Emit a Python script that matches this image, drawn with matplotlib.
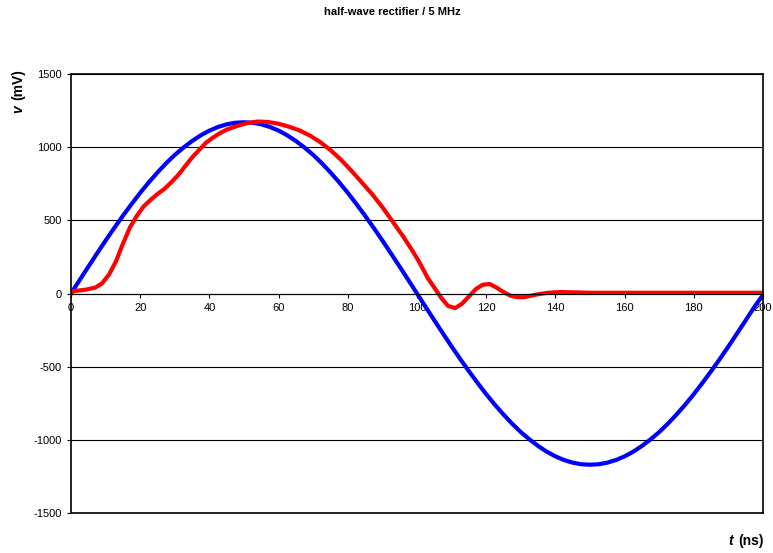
import matplotlib
matplotlib.use('Agg')
import matplotlib.pyplot as plt

plt.rcParams['font.family'] = ['Liberation Sans Narrow', 'Liberation Sans', 'DejaVu Sans']
plt.rcParams['axes.unicode_minus'] = False

# input sine (blue), read every 2.5 ns
t_in = [0, 2.5, 5, 7.5, 10, 12.5, 15, 17.5, 20, 22.5, 25, 27.5, 30, 32.5, 35, 37.5, 40, 42.5, 45, 47.5,
        50, 52.5, 55, 57.5, 60, 62.5, 65, 67.5, 70, 72.5, 75, 77.5, 80, 82.5, 85, 87.5, 90, 92.5, 95, 97.5,
        100, 102.5, 105, 107.5, 110, 112.5, 115, 117.5, 120, 122.5, 125, 127.5, 130, 132.5, 135, 137.5, 140, 142.5, 145, 147.5,
        150, 152.5, 155, 157.5, 160, 162.5, 165, 167.5, 170, 172.5, 175, 177.5, 180, 182.5, 185, 187.5, 190, 192.5, 195, 197.5, 200]
v_in = [0, 92, 183, 273, 362, 448, 531, 611, 688, 760, 827, 890, 947, 997, 1042, 1081, 1113, 1138, 1156, 1167,
        1170, 1167, 1156, 1138, 1113, 1081, 1042, 997, 947, 890, 827, 760, 688, 611, 531, 448, 362, 273, 183, 92,
        0, -92, -183, -273, -362, -448, -531, -611, -688, -760, -827, -890, -947, -997, -1042, -1081, -1113, -1138, -1156, -1167,
        -1170, -1167, -1156, -1138, -1113, -1081, -1042, -997, -947, -890, -827, -760, -688, -611, -531, -448, -362, -273, -183, -92, -10]

# rectifier output (red)
t_out = [0, 4, 7, 9, 11, 13, 15, 17, 19, 21, 23, 25, 27, 29, 31, 33, 35, 37, 39, 41, 43, 45, 48, 51, 54, 57,
         60, 63, 66, 69, 72, 75, 78, 81, 84, 87, 90, 93, 96, 99, 101, 103, 105, 107, 109, 111, 113, 115, 117,
         119, 121, 123, 125, 127, 129, 131, 133, 135, 138, 141, 145, 150, 200]
v_out = [15, 25, 40, 70, 130, 220, 340, 450, 530, 595, 640, 680, 715, 760, 810, 870, 930, 980, 1030, 1065, 1095,
         1120, 1145, 1165, 1175, 1172, 1160, 1140, 1115, 1080, 1035, 980, 915, 840, 760, 680, 590, 490, 390, 280,
         200, 110, 40, -30, -85, -100, -70, -20, 30, 60, 65, 40, 10, -15, -25, -25, -15, -5, 5, 10, 8, 5, 5]

fig = plt.figure(figsize=(7.73, 5.53), dpi=100)
ax = fig.add_axes([71 / 773, 40 / 553, 692 / 773, 439 / 553])

ax.plot(t_in, v_in, color='#0000ff', lw=3, solid_joinstyle='round')
ax.plot(t_out, v_out, color='#ff0000', lw=3, solid_joinstyle='round')

ax.set_xlim(0, 200)
ax.set_ylim(-1500, 1500)
ax.set_xticks(range(0, 201, 20))
ax.set_yticks(range(-1500, 1501, 500))
ax.yaxis.grid(True, color='black', lw=0.8)
ax.set_axisbelow(True)

ax.spines['bottom'].set_position(('data', 0))
ax.axhline(-1500, color='black', lw=1.2, clip_on=False)
for s in ['left', 'right', 'top']:
    ax.spines[s].set_linewidth(1.2)
ax.spines['bottom'].set_linewidth(0.8)
ax.tick_params(axis='both', length=3, width=0.8)
for lab in ax.get_xticklabels() + ax.get_yticklabels():
    lab.set_family('Liberation Sans')
    lab.set_fontsize(8)

fig.text(392 / 773, 1 - 12 / 553, 'half-wave rectifier / 5 MHz', ha='center', va='center',
         fontsize=8, fontweight='bold')

# y label: italic v + (mV)
fig.text(18 / 773, 1 - 109 / 553, 'v', rotation=90, ha='center', va='center',
         fontsize=10, fontweight='bold', style='italic', family='Liberation Sans')
fig.text(18 / 773, 1 - 85 / 553, '(mV)', rotation=90, ha='center', va='center',
         fontsize=10, fontweight='bold', family='Liberation Sans')

# x label: italic t + (ns)
fig.text(731 / 773, 1 - 541 / 553, 't', ha='center', va='center',
         fontsize=10, fontweight='bold', style='italic', family='Liberation Sans')
fig.text(751 / 773, 1 - 541 / 553, '(ns)', ha='center', va='center',
         fontsize=10, fontweight='bold', family='Liberation Sans')

fig.savefig('out.png', dpi=100)
